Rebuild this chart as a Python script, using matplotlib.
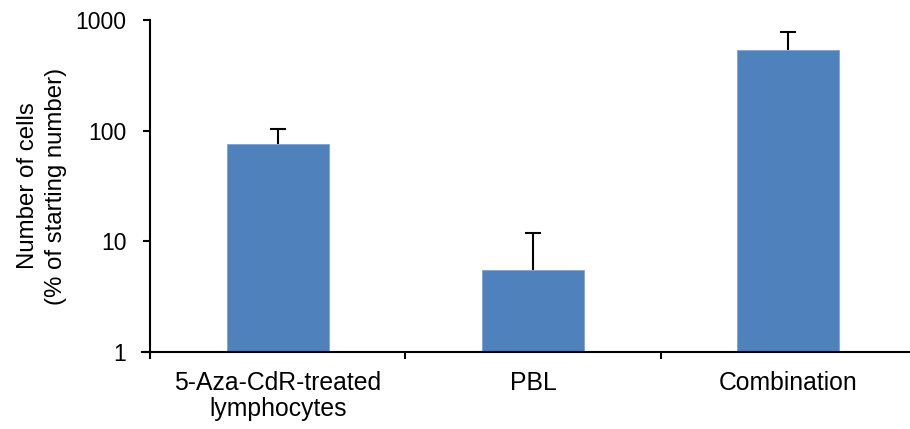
import matplotlib
matplotlib.use("Agg")
import matplotlib.pyplot as plt
from matplotlib.ticker import FixedLocator, NullLocator, FixedFormatter
import numpy as np

plt.rcParams['font.family'] = ['Liberation Sans', 'DejaVu Sans']

categories = ["5-Aza-CdR-treated\nlymphocytes", "PBL", "Combination"]
cell_pct = [76, 5.5, 540]
upper_err = [28, 6.5, 245]   # upper error only
y_ticks = [1, 10, 100, 1000]
y_tick_labels = ["1", "10", "100", "1000"]

fig = plt.figure(figsize=(9.10, 4.29), dpi=100)
ax = fig.add_axes([150 / 910, 1 - 352 / 429, 766 / 910, (352 - 20) / 429])

x = np.arange(len(categories)) + 0.5
ax.bar(x, cell_pct, width=0.4, color="#4F81BD", edgecolor="#7FA3D3",
       linewidth=0.6, zorder=2)
_, caps, _ = ax.errorbar(x, cell_pct, yerr=[np.zeros(len(x)), upper_err],
                         fmt="none", ecolor="black", elinewidth=1.5,
                         capsize=5.5, capthick=1.5, zorder=3)
# one-sided bars: hide the cap sitting on the bar top
caps[0].set_visible(False)

ax.set_yscale("log")
ax.set_ylim(1, 1000)
ax.set_xlim(0, len(categories))
ax.yaxis.set_major_locator(FixedLocator(y_ticks))
ax.yaxis.set_major_formatter(FixedFormatter(y_tick_labels))
ax.yaxis.set_minor_locator(NullLocator())

ax.set_xticks(x)
ax.set_xticklabels(categories, fontsize=17.8, linespacing=1.1)
ax.set_xticks(np.arange(0, len(categories) + 1), minor=True)
ax.tick_params(axis="x", which="major", length=0, pad=14)
ax.tick_params(axis="x", which="minor", length=5, width=1.5, direction="out")
ax.tick_params(axis="y", which="major", length=5, width=1.5, direction="out",
               labelsize=16.5, pad=12)

for side in ("top", "right"):
    ax.spines[side].set_visible(False)
for side in ("left", "bottom"):
    ax.spines[side].set_linewidth(1.5)
ax.spines["bottom"].set_bounds(-0.03, len(categories))

ax.set_ylabel("Number of cells\n(% of starting number)", fontsize=17.3,
              linespacing=1.35, labelpad=6)

fig.savefig("out.png", dpi=100)
